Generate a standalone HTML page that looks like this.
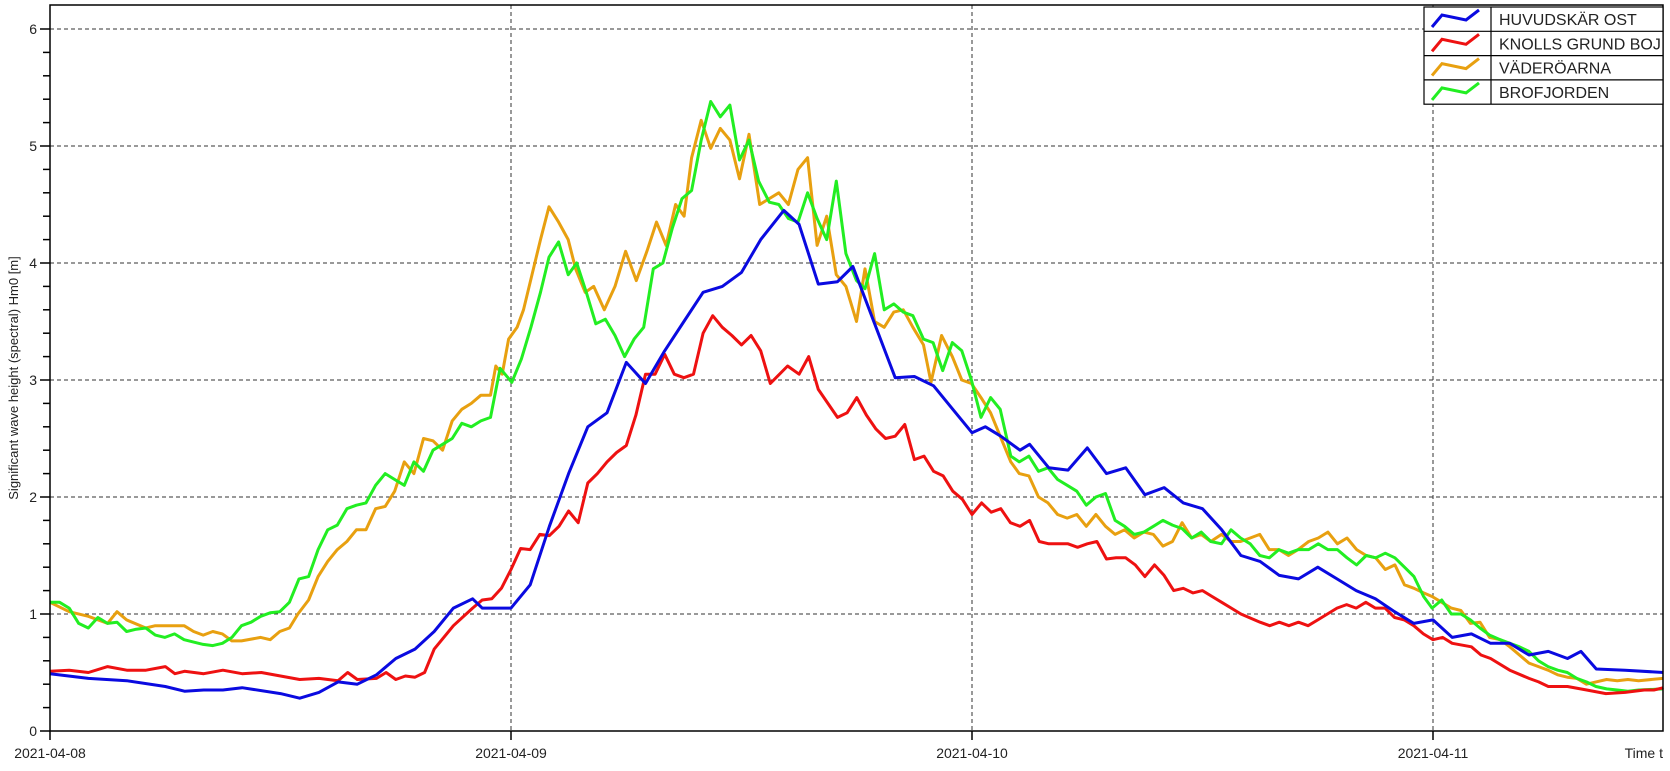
<!DOCTYPE html>
<html><head><meta charset="utf-8"><style>
html,body{margin:0;padding:0;background:#fff;}
svg{display:block;font-family:"Liberation Sans",Arial,sans-serif;}
</style></head><body>
<svg id="s" width="1670" height="771" viewBox="0 0 1670 771" xmlns="http://www.w3.org/2000/svg">
<rect x="0" y="0" width="1670" height="771" fill="#fff"/>
<g id="grid" stroke="#333" stroke-width="1" stroke-dasharray="4,3"></g>
<g id="series" fill="none" stroke-width="3" stroke-linejoin="round"></g>
<g id="axes" stroke="#000" stroke-width="1.5" fill="none"></g>
<g id="labels" font-size="14" fill="#222"></g>
<text x="18" y="378" font-size="13" fill="#222" text-anchor="middle" transform="rotate(-90 18 378)">Significant wave height (spectral) Hm0 [m]</text>
<g id="legend"></g>
</svg>
<script>
var NS="http://www.w3.org/2000/svg";
function el(t,a,p,txt){var e=document.createElementNS(NS,t);for(var k in a)e.setAttribute(k,a[k]);if(txt!=null)e.textContent=txt;document.getElementById(p).appendChild(e);return e;}
var L=50,R=1663,T=5,B=731;
function Y(v){return 731-117*v;}
function XD(xd){return 50+(xd-47)*1.064;}
function XH(h){return 50+h*461/24;}
// grid
for(var v=1;v<=6;v++)el('line',{x1:L,x2:R,y1:Y(v),y2:Y(v)},'grid');
[511,972,1433].forEach(function(x){el('line',{x1:x,x2:x,y1:T,y2:B},'grid');});
// axes
el('rect',{x:L,y:T,width:R-L,height:B-T},'axes');
for(var i=0;i<=30;i++){var y=Y(i*0.2);el('line',{x1:i%5==0?40:43,x2:L,y1:y,y2:y},'axes');}
[50,511,972,1433].forEach(function(x){el('line',{x1:x,x2:x,y1:B,y2:B+9},'axes');});
for(var v=0;v<=6;v++)el('text',{x:37,y:Y(v)+5,'text-anchor':'end'},'labels',String(v));
[[50,'2021-04-08'],[511,'2021-04-09'],[972,'2021-04-10'],[1433,'2021-04-11']].forEach(function(d){el('text',{x:d[0],y:758,'text-anchor':'middle'},'labels',d[1]);});
el('text',{x:1663,y:758,'text-anchor':'end'},'labels','Time t');

var blueH=[0,.49,2,.45,4,.43,6,.38,7,.34,8,.35,9,.35,10,.37,12,.32,13,.28,14,.33,15,.42,16,.40,17,.48,18,.62,19,.70,20,.85,21,1.05,22,1.13,22.5,1.05,24,1.05,25,1.25,26,1.75,27,2.2,28,2.6,29,2.72,30,3.15,31,2.97,32,3.25,33,3.5,34,3.75,35,3.8,36,3.92,37,4.2,38.2,4.45,39,4.33,40,3.82,41,3.84,41.8,3.97,43,3.45,44,3.02,45,3.03,46,2.95,47,2.75,48,2.55,48.7,2.6,49.5,2.52,50.5,2.4,51,2.45,52,2.25,53,2.23,54,2.42,55,2.2,56,2.25,57,2.02,58,2.08,59,1.95,60,1.9,61,1.72,62,1.5,63,1.45,64,1.33,65,1.3,66,1.4,67,1.3,68,1.2,69,1.13,70,1.02,71,.92,72,.95,73,.8,74,.83,75,.75,76,.75,77,.65,78,.68,79,.62,79.7,.68,80.5,.53,82,.52,84,.5];
var redH=[0,.51,1,.52,2,.5,3,.55,4,.52,5,.52,6,.55,6.5,.49,7,.51,8,.49,9,.52,10,.49,11,.5,12,.47,13,.44,14,.45,15,.43,15.5,.5,16,.44,17,.45,17.5,.5,18,.44,18.5,.47,19,.46,19.5,.5,20,.7,21,.9,22,1.05,22.5,1.12,23,1.13,23.5,1.22,24,1.38,24.5,1.56,25,1.55,25.5,1.68,26,1.67,26.5,1.75,27,1.88,27.5,1.78,28,2.12,28.5,2.2,29,2.3,29.5,2.38,30,2.44,30.5,2.7,31,3.05,31.5,3.05,32,3.22,32.5,3.05,33,3.02,33.5,3.05,34,3.4,34.5,3.55,35,3.45,35.5,3.38,36,3.3,36.5,3.38,37,3.25,37.5,2.97,38.4,3.12,39,3.05,39.5,3.2,40,2.92,41,2.68,41.5,2.72,42,2.85,42.5,2.7,43,2.58,43.5,2.5,44,2.52,44.5,2.62,45,2.32,45.5,2.35,46,2.22,46.5,2.18,47,2.05,47.5,1.98,48,1.85,48.5,1.95,49,1.87,49.5,1.9,50,1.78,50.5,1.75,51,1.8,51.5,1.62,52,1.6,53,1.6,53.5,1.57,54,1.6,54.5,1.62,55,1.47,55.5,1.48,56,1.48,56.5,1.42,57,1.32,57.5,1.42,58,1.33,58.5,1.2,59,1.22,59.5,1.18,60,1.2,60.5,1.15,61,1.1,61.5,1.05,62,1.0,63,.93,63.5,.9,64,.93,64.5,.9,65,.93,65.5,.9,66,.95,67,1.05,67.5,1.08,68,1.05,68.5,1.1,69,1.05,69.5,1.05,70,.97,70.5,.95,71,.9,71.5,.83,72,.78,72.5,.8,73,.75,74,.72,74.5,.65,75,.62,76,.52,77,.45,77.5,.42,78,.38,79,.38,80,.35,81,.32,82,.33,83,.35,83.5,.35,84,.37];
var orD=[47,1.1,65,1.02,83,.98,101,.92,110,1.02,119,.95,137,.88,146,.9,173,.9,182,.85,191,.82,200,.85,209,.83,218,.77,227,.77,245,.8,254,.78,263,.85,272,.88,280,1.0,290,1.12,299,1.32,308,1.45,317,1.55,326,1.62,335,1.72,344,1.72,353,1.9,362,1.92,371,2.05,380,2.3,389,2.2,398,2.5,407,2.48,416,2.4,425,2.65,434,2.75,443,2.8,452,2.87,461,2.87,466,3.12,472,3.05,478,3.35,486,3.45,492,3.6,500,3.9,508,4.2,516,4.48,525,4.35,534,4.2,541,3.95,550,3.75,558,3.8,568,3.6,578,3.8,588,4.1,598,3.85,608,4.1,617,4.35,626,4.15,635,4.5,643,4.4,650,4.9,659,5.22,668,4.98,677,5.15,686,5.05,695,4.72,704,5.1,714,4.5,723,4.55,732,4.6,741,4.5,750,4.8,759,4.9,768,4.15,777,4.4,786,3.9,795,3.8,805,3.5,813,3.95,822,3.5,831,3.45,840,3.58,849,3.6,858,3.45,868,3.3,875,2.98,885,3.38,895,3.2,904,3.0,913,2.97,922,2.85,931,2.72,940,2.52,950,2.3,958,2.2,967,2.18,976,2.0,985,1.95,994,1.85,1003,1.82,1012,1.85,1021,1.75,1030,1.85,1039,1.75,1048,1.68,1057,1.72,1066,1.65,1075,1.7,1084,1.68,1093,1.58,1102,1.62,1111,1.78,1120,1.65,1129,1.68,1138,1.62,1148,1.68,1157,1.62,1166,1.62,1175,1.65,1184,1.68,1193,1.55,1202,1.55,1211,1.5,1220,1.55,1230,1.62,1239,1.65,1248,1.7,1257,1.6,1266,1.65,1275,1.55,1284,1.5,1293,1.48,1302,1.38,1311,1.42,1320,1.25,1329,1.22,1338,1.18,1346,1.15,1355,1.1,1364,1.05,1373,1.03,1382,.92,1391,.93,1400,.8,1410,.78,1419,.72,1428,.65,1437,.58,1446,.55,1455,.52,1464,.48,1473,.46,1482,.45,1491,.4,1500,.42,1510,.44,1520,.43,1530,.44,1540,.43,1563,.45];
var grD=[47,1.1,56,1.1,65,1.05,74,.92,83,.88,92,.97,101,.92,110,.93,119,.85,128,.87,137,.88,146,.82,155,.8,164,.83,173,.78,182,.76,191,.74,200,.73,209,.75,218,.8,227,.9,236,.93,245,.98,254,1.01,263,1.02,272,1.1,281,1.3,290,1.32,299,1.55,308,1.72,317,1.76,326,1.9,335,1.93,344,1.95,353,2.1,362,2.2,371,2.15,380,2.1,389,2.3,398,2.22,407,2.4,416,2.45,425,2.5,434,2.63,443,2.6,452,2.65,461,2.68,470,3.1,481,2.98,490,3.18,499,3.45,508,3.75,516,4.05,525,4.18,534,3.9,542,4.0,551,3.75,560,3.48,569,3.52,578,3.38,587,3.2,596,3.35,605,3.45,614,3.95,623,4.0,632,4.3,641,4.55,650,4.62,659,5.05,668,5.38,677,5.25,686,5.35,695,4.88,704,5.05,713,4.7,723,4.52,732,4.5,741,4.38,750,4.35,759,4.6,768,4.38,777,4.2,786,4.7,795,4.08,805,3.85,813,3.78,822,4.08,831,3.6,840,3.65,849,3.58,858,3.55,868,3.35,877,3.32,886,3.08,895,3.32,904,3.25,913,3.0,922,2.68,931,2.85,940,2.75,950,2.35,958,2.3,967,2.35,976,2.22,985,2.25,994,2.15,1003,2.1,1012,2.05,1021,1.93,1030,2.0,1039,2.03,1048,1.8,1057,1.75,1066,1.68,1075,1.7,1084,1.75,1093,1.8,1102,1.76,1111,1.73,1120,1.65,1129,1.7,1138,1.62,1148,1.6,1157,1.72,1166,1.65,1175,1.6,1184,1.5,1193,1.48,1202,1.55,1211,1.52,1220,1.55,1230,1.55,1239,1.6,1248,1.55,1257,1.55,1266,1.48,1275,1.42,1284,1.5,1293,1.48,1302,1.52,1311,1.48,1320,1.4,1329,1.32,1338,1.15,1346,1.05,1355,1.12,1364,1.0,1373,1.0,1382,.95,1391,.88,1400,.82,1410,.78,1419,.75,1428,.72,1437,.68,1446,.6,1455,.55,1464,.52,1473,.5,1482,.45,1491,.42,1500,.38,1510,.36,1520,.35,1530,.34,1540,.35,1563,.36];
function pts(a,f){var s=[];for(var i=0;i<a.length;i+=2)s.push(f(a[i]).toFixed(1)+','+Y(a[i+1]).toFixed(1));return s.join(' ');}
el('polyline',{points:pts(orD,XD),stroke:'#e8a010'},'series');
el('polyline',{points:pts(grD,XD),stroke:'#22ee22'},'series');
el('polyline',{points:pts(redH,XH),stroke:'#ee1111'},'series');
el('polyline',{points:pts(blueH,XH),stroke:'#0a0ae0'},'series');
// legend
var lx=1424,ly=7,rh=24.3;
el('rect',{x:lx,y:ly,width:239,height:rh*4,fill:'#fff',stroke:'#000','stroke-width':1.2},'legend');
el('line',{x1:1491,x2:1491,y1:ly,y2:ly+rh*4,stroke:'#000','stroke-width':1.2},'legend');
var names=[['HUVUDSKÄR OST','#0a0ae0'],['KNOLLS GRUND BOJ','#ee1111'],['VÄDERÖARNA','#e8a010'],['BROFJORDEN','#22ee22']];
names.forEach(function(n,i){var y0=ly+rh*i;
 if(i>0)el('line',{x1:lx,x2:lx+239,y1:y0,y2:y0,stroke:'#000','stroke-width':1.2},'legend');
 el('polyline',{points:(lx+8)+','+(y0+20)+' '+(lx+18)+','+(y0+8)+' '+(lx+42)+','+(y0+13)+' '+(lx+55)+','+(y0+3),fill:'none',stroke:n[1],'stroke-width':3},'legend');
 el('text',{x:1499,y:y0+18,'font-size':16,fill:'#222'},'legend',n[0]);});
</script>
</body></html>
